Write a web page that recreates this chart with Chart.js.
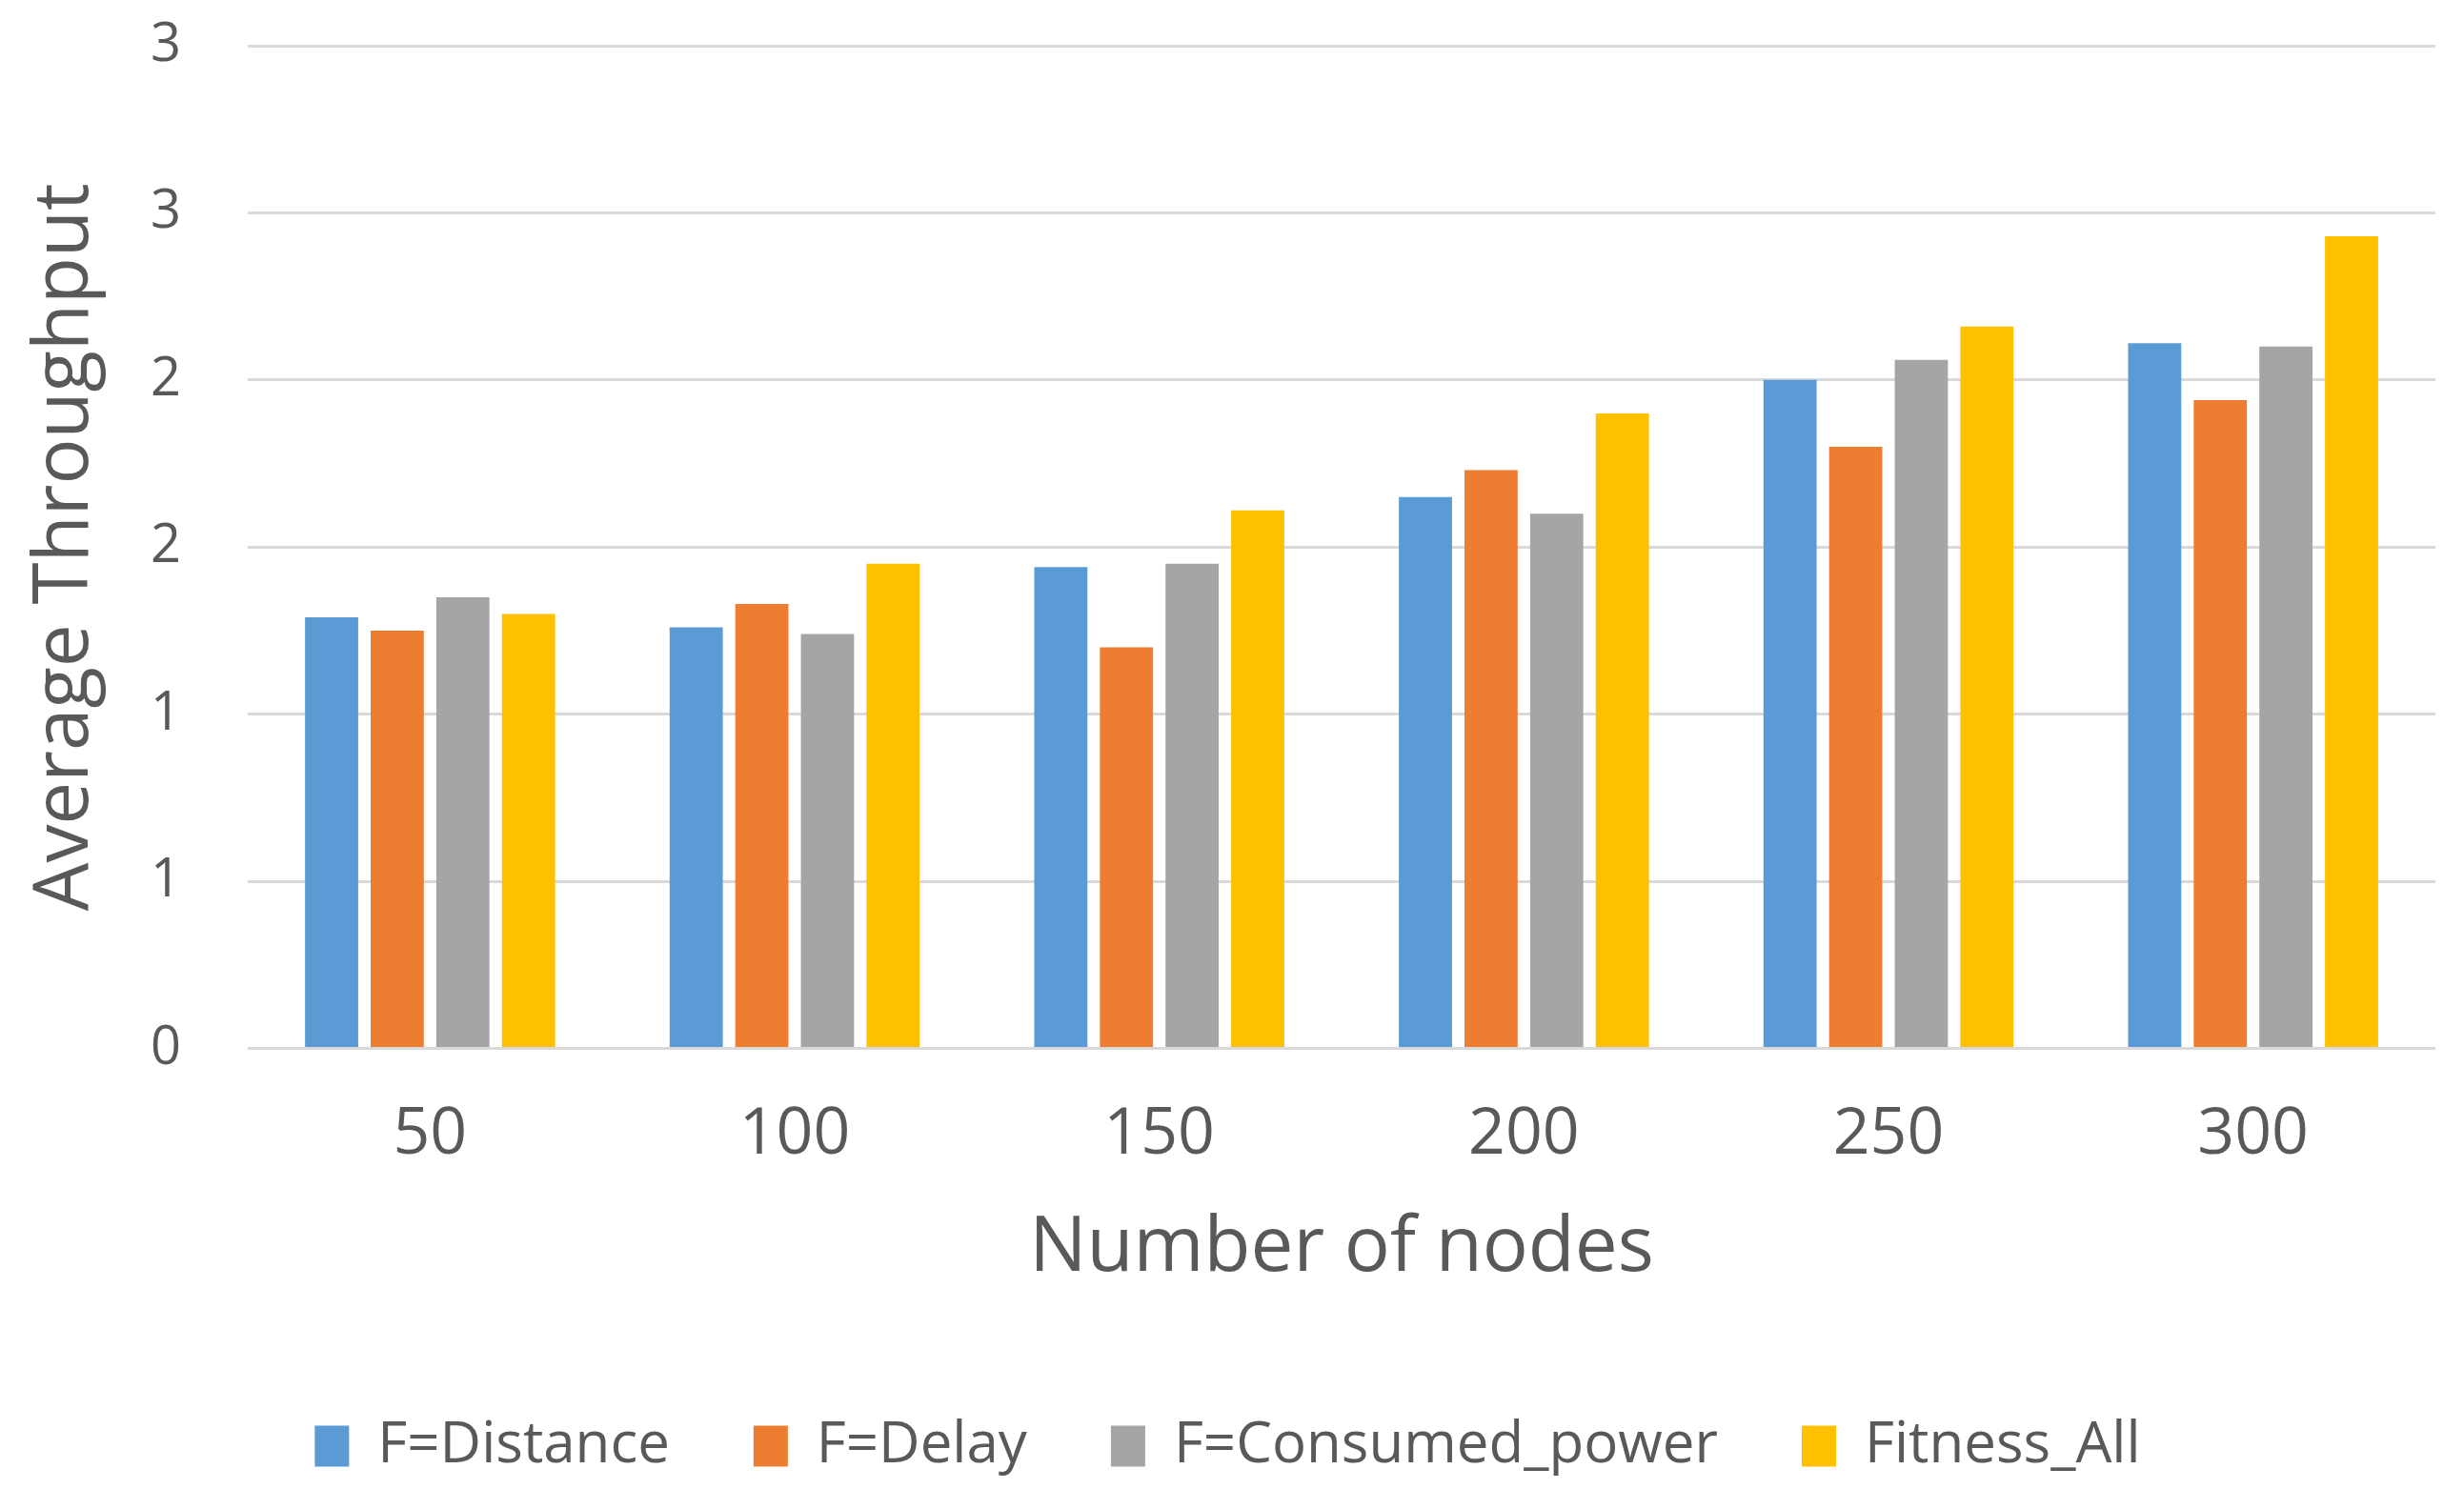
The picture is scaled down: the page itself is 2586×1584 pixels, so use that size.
<!DOCTYPE html>
<html>
<head>
<meta charset="utf-8">
<script src="https://cdn.jsdelivr.net/npm/chart.js@4.4.1/dist/chart.umd.min.js"></script>
<style>
  html, body { margin: 0; padding: 0; background: #fff; }
  #wrap { width: 2586px; height: 1584px; position: relative; }
</style>
</head>
<body>
<div id="wrap"><canvas id="chart"></canvas></div>
<script>
// data
const nodes = ["50", "100", "150", "200", "250", "300"];
const distance = [1.29, 1.26, 1.44, 1.65, 2.00, 2.11];
const delay = [1.25, 1.33, 1.20, 1.73, 1.80, 1.94];
const consumedPower = [1.35, 1.24, 1.45, 1.60, 2.06, 2.10];
const fitnessAll = [1.30, 1.45, 1.61, 1.90, 2.16, 2.43];
const yTicks = [0, 0.5, 1, 1.5, 2, 2.5, 3];

const grey = "#595959";
const font = "'Open Sans', 'Noto Sans', sans-serif";

new Chart(document.getElementById("chart").getContext("2d"), {
    type: "bar",
    data: {
        labels: nodes,
        datasets: [
            { label: "F=Distance", data: distance, backgroundColor: "#5b9bd5" },
            { label: "F=Delay", data: delay, backgroundColor: "#ed7d31" },
            { label: "F=Consumed_power", data: consumedPower, backgroundColor: "#a5a5a5" },
            { label: "Fitness_All", data: fitnessAll, backgroundColor: "#ffc000" }
        ]
    },
    options: {
        responsive: true,
        maintainAspectRatio: false,
        devicePixelRatio: 1,
        animation: false,
        layout: { padding: { left: 21, right: 30, top: 0, bottom: 26 } },
        datasets: { bar: { categoryPercentage: 0.72, barPercentage: 0.81 } },
        plugins: {
            legend: {
                position: "bottom",
                labels: {
                    color: grey,
                    font: { family: font, size: 60 },
                    boxWidth: 36,
                    boxHeight: 43,
                    padding: 88
                }
            },
            tooltip: { enabled: false }
        },
        scales: {
            x: {
                grid: { display: false, drawTicks: false },
                border: { display: false },
                ticks: { color: grey, font: { family: font, size: 68, lineHeight: 0.8 }, padding: 64 },
                title: {
                    display: true,
                    text: "Number of nodes",
                    color: grey,
                    font: { family: font, size: 80, lineHeight: 0.7 },
                    padding: { top: 0, bottom: 61 }
                }
            },
            y: {
                min: 0,
                max: 3,
                afterBuildTicks: (axis) => { axis.ticks = yTicks.map(v => ({ value: v })); },
                // keep the top gridline close to the canvas edge like the original
                afterFit: (axis) => { axis.paddingTop = 48; },
                grid: { color: "#d9d9d9", lineWidth: 3, drawTicks: false },
                border: { display: false },
                ticks: {
                    color: grey,
                    font: { family: font, size: 56 },
                    padding: 70,
                    callback: (v) => String(Math.round(v))
                },
                title: {
                    display: true,
                    text: "Average Throughput",
                    color: grey,
                    font: { family: font, size: 80 },
                    padding: { top: 0, bottom: -29 }
                }
            }
        }
    }
});
</script>
</body>
</html>
